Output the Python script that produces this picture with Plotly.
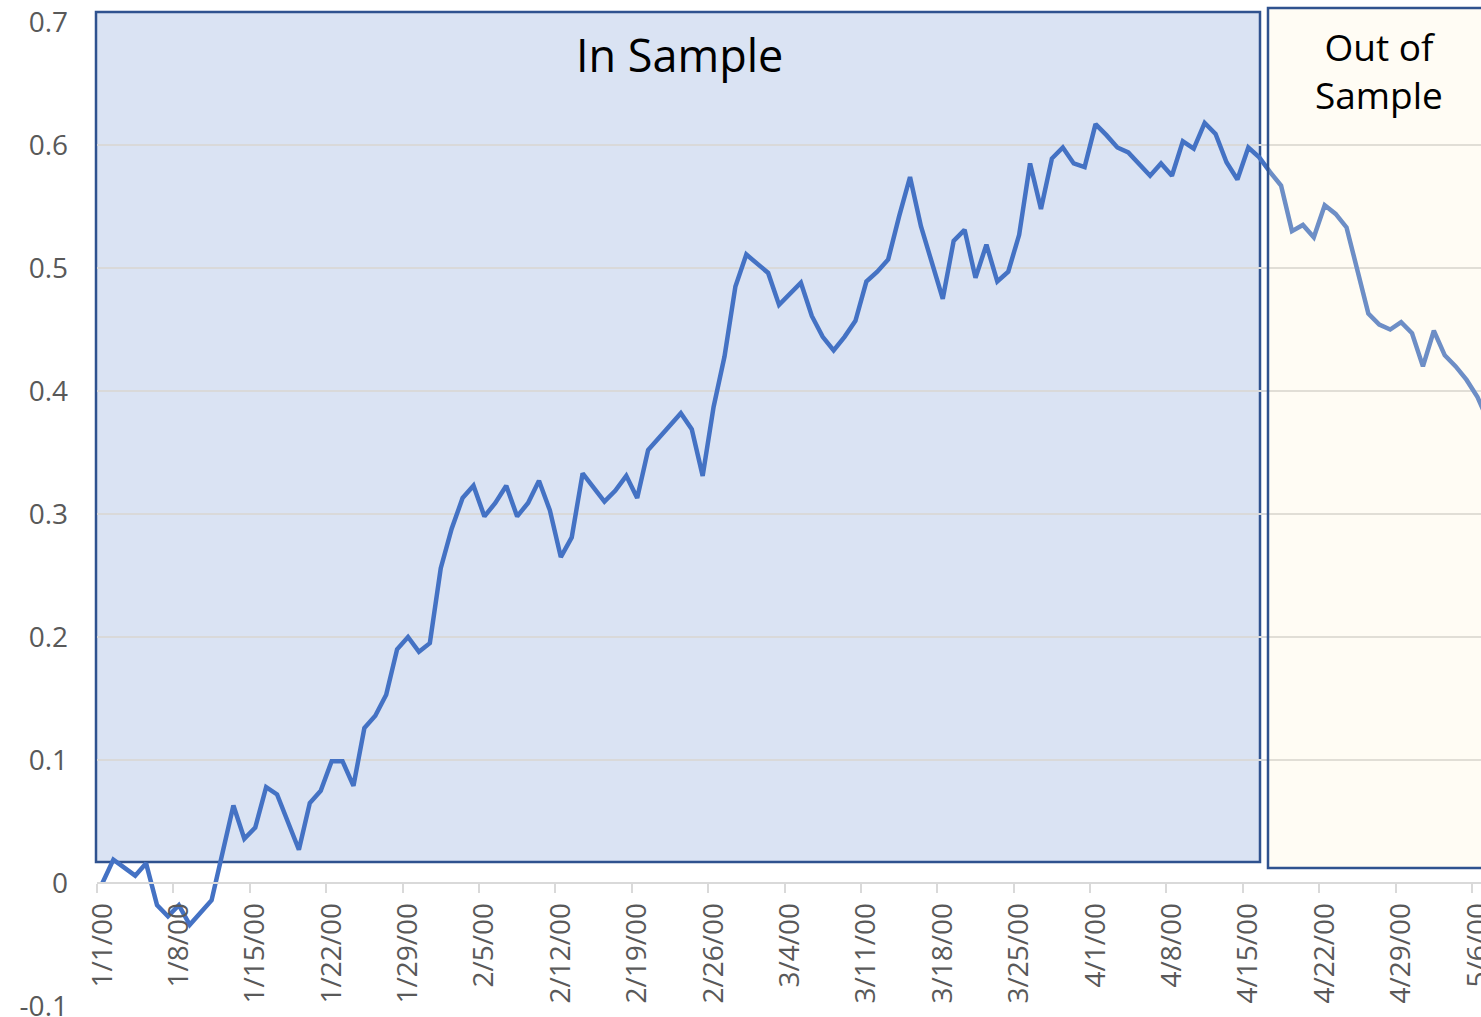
import pandas as pd
import plotly.graph_objects as go

# ---------------- data ----------------
dates = [
    "2000-01-01", "2000-01-02", "2000-01-04", "2000-01-05", "2000-01-06", "2000-01-07",
    "2000-01-08", "2000-01-09", "2000-01-11", "2000-01-13", "2000-01-14", "2000-01-15",
    "2000-01-16", "2000-01-17", "2000-01-19", "2000-01-20", "2000-01-21", "2000-01-22",
    "2000-01-23", "2000-01-24", "2000-01-25", "2000-01-26", "2000-01-27", "2000-01-28",
    "2000-01-29", "2000-01-30", "2000-01-31", "2000-02-01", "2000-02-02", "2000-02-03",
    "2000-02-04", "2000-02-05", "2000-02-06", "2000-02-07", "2000-02-08", "2000-02-09",
    "2000-02-10", "2000-02-11", "2000-02-12", "2000-02-13", "2000-02-14", "2000-02-15",
    "2000-02-16", "2000-02-17", "2000-02-18", "2000-02-19", "2000-02-20", "2000-02-23",
    "2000-02-24", "2000-02-25", "2000-02-26", "2000-02-27", "2000-02-28", "2000-02-29",
    "2000-03-02", "2000-03-03", "2000-03-05", "2000-03-06", "2000-03-07", "2000-03-08",
    "2000-03-09", "2000-03-10", "2000-03-11", "2000-03-12", "2000-03-13", "2000-03-14",
    "2000-03-15", "2000-03-16", "2000-03-18", "2000-03-19", "2000-03-20", "2000-03-21",
    "2000-03-22", "2000-03-23", "2000-03-24", "2000-03-25", "2000-03-26", "2000-03-27",
    "2000-03-28", "2000-03-29", "2000-03-30", "2000-03-31", "2000-04-01", "2000-04-02",
    "2000-04-03", "2000-04-04", "2000-04-05", "2000-04-06", "2000-04-07", "2000-04-08",
    "2000-04-09", "2000-04-10", "2000-04-11", "2000-04-12", "2000-04-13", "2000-04-14",
    "2000-04-15", "2000-04-16", "2000-04-17", "2000-04-18", "2000-04-19", "2000-04-20",
    "2000-04-21", "2000-04-22", "2000-04-23", "2000-04-24", "2000-04-26", "2000-04-27",
    "2000-04-28", "2000-04-29", "2000-04-30", "2000-05-01", "2000-05-02", "2000-05-03",
    "2000-05-04", "2000-05-05", "2000-05-06", "2000-05-07",
]
values = [
    0.000, 0.019, 0.006, 0.016, -0.018, -0.027,
    -0.018, -0.034, -0.014, 0.063, 0.036, 0.045,
    0.078, 0.072, 0.027, 0.065, 0.075, 0.099,
    0.099, 0.079, 0.126, 0.136, 0.153, 0.190,
    0.200, 0.188, 0.195, 0.256, 0.288, 0.313,
    0.323, 0.298, 0.309, 0.323, 0.298, 0.309,
    0.327, 0.303, 0.265, 0.281, 0.333, 0.322,
    0.310, 0.319, 0.331, 0.313, 0.352, 0.382,
    0.369, 0.331, 0.387, 0.428, 0.485, 0.511,
    0.496, 0.470, 0.488, 0.461, 0.444, 0.433,
    0.444, 0.457, 0.489, 0.497, 0.507, 0.542,
    0.574, 0.534, 0.475, 0.522, 0.531, 0.492,
    0.519, 0.489, 0.497, 0.527, 0.585, 0.548,
    0.589, 0.598, 0.585, 0.582, 0.617, 0.608,
    0.598, 0.594, 0.584, 0.575, 0.585, 0.575,
    0.603, 0.597, 0.618, 0.609, 0.586, 0.572,
    0.598, 0.590, 0.578, 0.567, 0.530, 0.535,
    0.525, 0.551, 0.544, 0.533, 0.463, 0.454,
    0.450, 0.456, 0.447, 0.420, 0.449, 0.429,
    0.420, 0.409, 0.395, 0.375,
]
x_tick_dates = ["2000-01-01", "2000-01-08", "2000-01-15", "2000-01-22", "2000-01-29",
                "2000-02-05", "2000-02-12", "2000-02-19", "2000-02-26", "2000-03-04",
                "2000-03-11", "2000-03-18", "2000-03-25", "2000-04-01", "2000-04-08",
                "2000-04-15", "2000-04-22", "2000-04-29", "2000-05-06"]
x_tick_labels = ["1/1/00", "1/8/00", "1/15/00", "1/22/00", "1/29/00", "2/5/00", "2/12/00",
                 "2/19/00", "2/26/00", "3/4/00", "3/11/00", "3/18/00", "3/25/00", "4/1/00",
                 "4/8/00", "4/15/00", "4/22/00", "4/29/00", "5/6/00"]
y_tick_vals = [-0.1, 0, 0.1, 0.2, 0.3, 0.4, 0.5, 0.6, 0.7]
y_tick_labels = ["-0.1", "0", "0.1", "0.2", "0.3", "0.4", "0.5", "0.6", "0.7"]

# ---------------- layout geometry ----------------
W, H = 1481, 1017
ML, MR, MT, MB = 97, 0, 21, 10
PW, PH = W - ML - MR, H - MT - MB
PX_PER_DAY = 10.913
Y_PAD = 0.1 / 123.0   # one pixel of headroom so the edge gridlines are drawn

def px_x(p):
    return (p - ML) / PW

def px_y(p):
    return (H - MB - p) / PH

HALF_DAY = pd.Timedelta(hours=12)
x_pts = pd.to_datetime(dates) + HALF_DAY          # Excel date axis: values sit mid-day
tick_mid = pd.to_datetime(x_tick_dates) + HALF_DAY  # labels centred on the day
tick_edge = pd.to_datetime(x_tick_dates)            # tick marks on day boundaries
x_start = pd.Timestamp("2000-01-01")
x_end = x_start + pd.Timedelta(days=PW / PX_PER_DAY)

FONT = "Open Sans"
GRID = "#D9D9D9"
LABEL = "#595959"

fig = go.Figure()
fig.add_trace(go.Scatter(
    x=x_pts, y=values, mode="lines",
    line=dict(color="#4472C4", width=4.5),
    hoverinfo="skip", showlegend=False,
))

y_lo, y_hi = -0.1 - Y_PAD, 0.7 + Y_PAD
fig.update_layout(
    width=W, height=H,
    margin=dict(l=ML, r=MR, t=MT, b=MB, pad=0, autoexpand=False),
    paper_bgcolor="white", plot_bgcolor="white",
    showlegend=False,
    xaxis=dict(
        type="date", range=[x_start, x_end], automargin=False,
        anchor="free", position=(0 - y_lo) / (y_hi - y_lo),
        tickmode="array", tickvals=tick_mid, ticktext=x_tick_labels,
        tickangle=-90, ticks="", showgrid=False, zeroline=False,
        showline=True, linecolor=GRID, linewidth=1.5,
        tickfont=dict(family=FONT, size=28, color=LABEL),
        ticklabelstandoff=8, ticklabeloverflow="allow",
        minor=dict(tickmode="array", tickvals=tick_edge, ticks="outside",
                   ticklen=9, tickcolor=GRID, tickwidth=1.5, showgrid=False),
    ),
    yaxis=dict(
        range=[y_lo, y_hi], automargin=False,
        tickmode="array", tickvals=y_tick_vals, ticktext=y_tick_labels,
        showgrid=True, gridcolor=GRID, gridwidth=1.5, zeroline=False, showline=False,
        ticks="", tickfont=dict(family=FONT, size=28, color=LABEL),
        ticklabelstandoff=28, ticklabeloverflow="allow",
    ),
)

BORDER = "#2F528F"
fig.add_shape(type="rect", xref="paper", yref="paper",
              x0=px_x(96), x1=px_x(1260), y0=px_y(862), y1=px_y(12),
              fillcolor="rgba(68,114,196,0.2)", line=dict(color=BORDER, width=2.5),
              layer="between")
fig.add_shape(type="rect", xref="paper", yref="paper",
              x0=px_x(1268), x1=px_x(1530), y0=px_y(868), y1=px_y(8),
              fillcolor="rgba(255,242,204,0.22)", line=dict(color=BORDER, width=2.5),
              layer="above")

fig.add_annotation(text="In Sample", xref="paper", yref="paper",
                   x=px_x(679), y=px_y(55), showarrow=False,
                   xanchor="center", yanchor="middle",
                   font=dict(family=FONT, size=45, color="black"))
fig.add_annotation(text="Out of<br>Sample", xref="paper", yref="paper",
                   x=px_x(1379), y=px_y(70), showarrow=False,
                   xanchor="center", yanchor="middle",
                   font=dict(family=FONT, size=37, color="black"))

fig.write_html(
    "out.html",
    config={"displayModeBar": False},
    post_script="document.body.style.margin='0';document.body.style.overflow='hidden';",
)
